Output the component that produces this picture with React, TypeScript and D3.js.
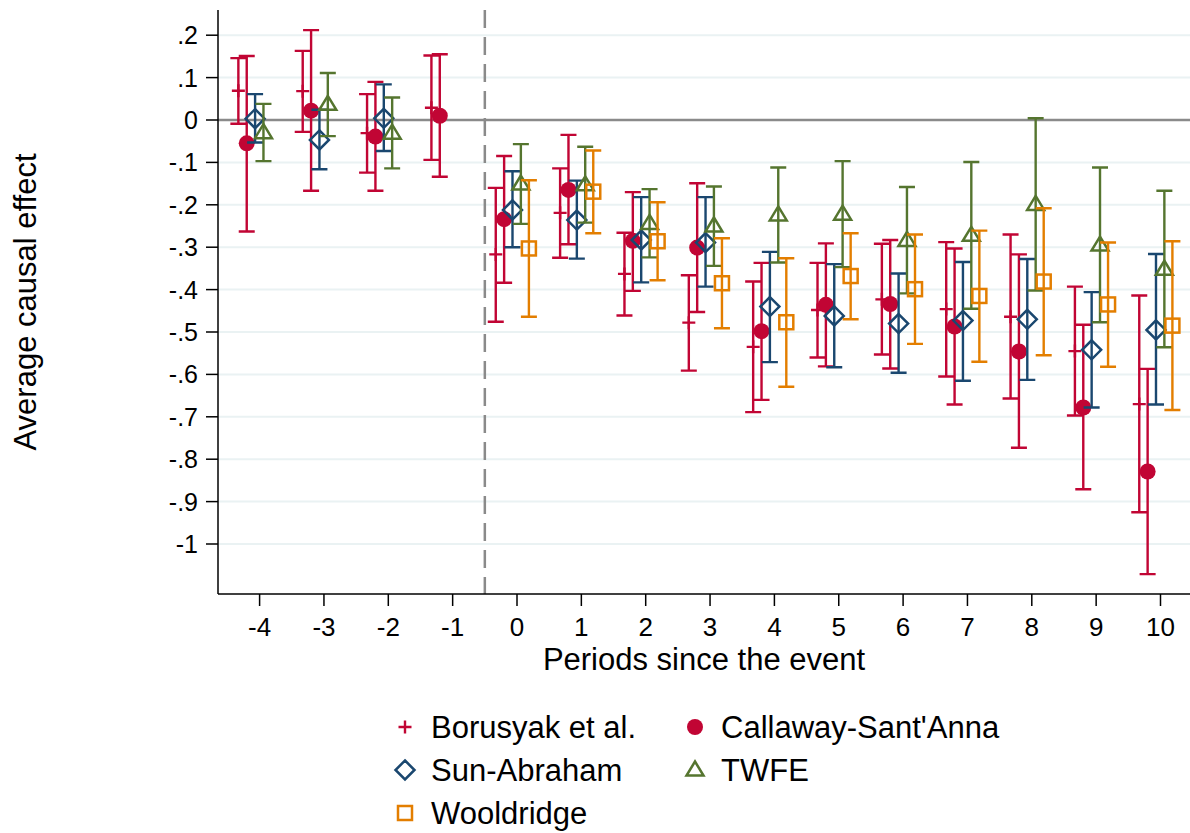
import React from 'react';
import * as d3 from 'd3';

const periods = [-4, -3, -2, -1, 0, 1, 2, 3, 4, 5, 6, 7, 8, 9, 10];
const yTicks = [0.2, 0.1, 0, -0.1, -0.2, -0.3, -0.4, -0.5, -0.6, -0.7, -0.8, -0.9, -1];
const yTickLabels = ['.2', '.1', '0', '-.1', '-.2', '-.3', '-.4', '-.5', '-.6', '-.7', '-.8', '-.9', '-1'];

// Borusyak et al.
const borEst = [0.069, 0.068, -0.031, 0.029, -0.317, -0.219, -0.363, -0.478, -0.535, -0.448, -0.423, -0.446, -0.464, -0.545, -0.67];
const borHi = [0.146, 0.163, 0.061, 0.152, -0.16, -0.114, -0.266, -0.366, -0.381, -0.337, -0.292, -0.288, -0.27, -0.393, -0.414];
const borLo = [-0.009, -0.028, -0.124, -0.094, -0.476, -0.325, -0.461, -0.591, -0.689, -0.56, -0.553, -0.605, -0.657, -0.697, -0.925];

// Callaway-Sant'Anna
const csEst = [-0.055, 0.022, -0.039, 0.01, -0.234, -0.165, -0.285, -0.301, -0.498, -0.436, -0.434, -0.487, -0.546, -0.678, -0.829];
const csHi = [0.151, 0.212, 0.09, 0.155, -0.085, -0.035, -0.17, -0.149, -0.337, -0.291, -0.283, -0.303, -0.317, -0.483, -0.587];
const csLo = [-0.263, -0.167, -0.167, -0.134, -0.384, -0.293, -0.403, -0.453, -0.66, -0.581, -0.586, -0.671, -0.773, -0.871, -1.071];

// Sun-Abraham
const saEst = [0.003, -0.047, 0.004, null, -0.212, -0.236, -0.283, -0.289, -0.44, -0.462, -0.48, -0.473, -0.47, -0.542, -0.495];
const saHi = [0.061, 0.024, 0.084, null, -0.121, -0.143, -0.182, -0.182, -0.311, -0.34, -0.362, -0.335, -0.328, -0.406, -0.316];
const saLo = [-0.053, -0.116, -0.073, null, -0.3, -0.327, -0.383, -0.393, -0.571, -0.583, -0.596, -0.615, -0.613, -0.678, -0.671];

// TWFE
const twEst = [-0.03, 0.037, -0.031, null, -0.151, -0.153, -0.244, -0.25, -0.224, -0.222, -0.284, -0.272, -0.199, -0.295, -0.352];
const twHi = [0.038, 0.111, 0.053, null, -0.057, -0.063, -0.163, -0.157, -0.112, -0.097, -0.158, -0.099, 0.004, -0.112, -0.167];
const twLo = [-0.097, -0.038, -0.114, null, -0.245, -0.242, -0.324, -0.344, -0.336, -0.347, -0.409, -0.445, -0.402, -0.477, -0.536];

// Wooldridge
const woEst = [null, null, null, null, -0.303, -0.169, -0.286, -0.385, -0.477, -0.368, -0.399, -0.415, -0.381, -0.435, -0.485];
const woHi = [null, null, null, null, -0.142, -0.072, -0.194, -0.279, -0.326, -0.267, -0.27, -0.261, -0.208, -0.289, -0.286];
const woLo = [null, null, null, null, -0.464, -0.267, -0.378, -0.491, -0.629, -0.47, -0.528, -0.57, -0.555, -0.582, -0.684];

const RED = '#c10534';
const NAVY = '#1a476f';
const GREEN = '#55752f';
const ORANGE = '#e37e00';

const series = [
  { name: 'Borusyak et al.', est: borEst, hi: borHi, lo: borLo, color: RED, shape: 'plus', shift: -0.33 },
  { name: "Callaway-Sant'Anna", est: csEst, hi: csHi, lo: csLo, color: RED, shape: 'dot', shift: -0.2 },
  { name: 'Sun-Abraham', est: saEst, hi: saHi, lo: saLo, color: NAVY, shape: 'diamond', shift: -0.07 },
  { name: 'TWFE', est: twEst, hi: twHi, lo: twLo, color: GREEN, shape: 'triangle', shift: 0.06 },
  { name: 'Wooldridge', est: woEst, hi: woHi, lo: woLo, color: ORANGE, shape: 'square', shift: 0.185 },
];

const FONT = "'Liberation Sans', Arial, Helvetica, sans-serif";

const Marker = ({ shape, x, y, color }: { shape: string; x: number; y: number; color: string }) => {
  if (shape === 'dot') return <circle cx={x} cy={y} r={8} fill={color} />;
  if (shape === 'plus')
    return <path d={`M${x - 6.5},${y}H${x + 6.5}M${x},${y - 6.5}V${y + 6.5}`} stroke={color} strokeWidth={2.4} fill="none" />;
  if (shape === 'diamond')
    return <path d={`M${x},${y - 9.5}L${x + 9.5},${y}L${x},${y + 9.5}L${x - 9.5},${y}Z`} stroke={color} strokeWidth={2.5} fill="none" />;
  if (shape === 'triangle')
    return <path d={`M${x},${y - 8.5}L${x + 8.5},${y + 5.5}L${x - 8.5},${y + 5.5}Z`} stroke={color} strokeWidth={2.5} fill="none" />;
  return <rect x={x - 7} y={y - 7} width={14} height={14} stroke={color} strokeWidth={2.5} fill="none" />;
};

const App = () => {
  const width = 1190;
  const height = 833;
  const left = 218;
  const right = 1190;
  const top = 10;
  const bottom = 594;

  const x = d3.scaleLinear().domain([0, 10]).range([517, 1160.5]);
  const y = d3.scaleLinear().domain([0, -1]).range([120, 544]);
  const cap = 8;

  const legendRows = [
    [0, 1],
    [2, 3],
    [4],
  ];

  return (
    <svg width={width} height={height} style={{ position: 'absolute', left: 0, top: 0, background: '#fff' }} fontFamily={FONT}>
      {/* grid */}
      {yTicks
        .filter((t) => t !== 0)
        .map((t) => (
          <line key={t} x1={left} x2={right} y1={y(t)} y2={y(t)} stroke="#eaf2f3" strokeWidth={2} />
        ))}
      <line x1={left} x2={right} y1={y(0)} y2={y(0)} stroke="#8a8a8a" strokeWidth={2.5} />
      <line x1={x(-0.5)} x2={x(-0.5)} y1={top} y2={bottom} stroke="#8a8a8a" strokeWidth={2.5} strokeDasharray="18 9" />

      {/* axes */}
      <line x1={left} x2={left} y1={top} y2={bottom} stroke="#000" strokeWidth={1.5} />
      <line x1={left} x2={right} y1={bottom} y2={bottom} stroke="#000" strokeWidth={1.5} />
      {yTicks.map((t, i) => (
        <g key={t}>
          <line x1={left - 12} x2={left} y1={y(t)} y2={y(t)} stroke="#000" strokeWidth={1.5} />
          <text x={198} y={y(t) + 9} textAnchor="end" fontSize={25}>
            {yTickLabels[i]}
          </text>
        </g>
      ))}
      {periods.map((p) => (
        <g key={p}>
          <line x1={x(p)} x2={x(p)} y1={bottom} y2={bottom + 12} stroke="#000" strokeWidth={1.5} />
          <text x={x(p)} y={636} textAnchor="middle" fontSize={26}>
            {p}
          </text>
        </g>
      ))}
      <text x={(left + right) / 2} y={670} textAnchor="middle" fontSize={31}>
        Periods since the event
      </text>
      <text transform={`translate(36,${(top + bottom) / 2}) rotate(-90)`} textAnchor="middle" fontSize={31}>
        Average causal effect
      </text>

      {/* series */}
      {series.map((s) => (
        <g key={s.name}>
          {periods.map((p, i) => {
            if (s.est[i] == null) return null;
            const cx = x(p + s.shift);
            return (
              <g key={p}>
                <path
                  d={`M${cx},${y(s.hi[i])}V${y(s.lo[i])}M${cx - cap},${y(s.hi[i])}H${cx + cap}M${cx - cap},${y(s.lo[i])}H${cx + cap}`}
                  stroke={s.color}
                  strokeWidth={2.4}
                  fill="none"
                />
                <Marker shape={s.shape} x={cx} y={y(s.est[i])} color={s.color} />
              </g>
            );
          })}
        </g>
      ))}

      {/* legend */}
      {legendRows.map((row, r) =>
        row.map((si, c) => {
          const s = series[si];
          const mx = c === 0 ? 405 : 695;
          const my = 727 + r * 43;
          return (
            <g key={s.name}>
              <Marker shape={s.shape} x={mx} y={my} color={s.color} />
              <text x={mx + 26} y={my + 11} fontSize={31}>
                {s.name}
              </text>
            </g>
          );
        })
      )}
    </svg>
  );
};

export default App;
